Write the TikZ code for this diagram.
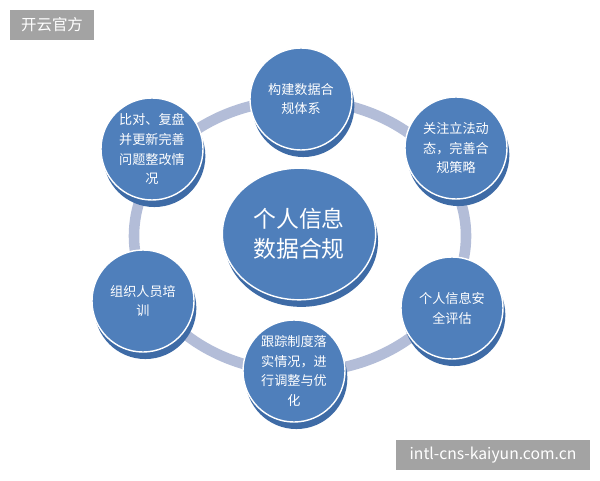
\documentclass[tikz,border=0pt]{standalone}
\usepackage{fontspec}
\setmainfont{Noto Sans CJK SC}
\usetikzlibrary{shadows,shapes.geometric}
\definecolor{bubblue}{HTML}{4F7FBB}
\definecolor{bubdark}{HTML}{3E6BA6}
\definecolor{ringblue}{HTML}{B3BDD8}
\definecolor{wmgray}{HTML}{A3A3A3}
\begin{document}
\begin{tikzpicture}[x=0.03cm,y=-0.03cm,line join=round,line cap=round,
	bub/.style={circle,fill=bubblue,draw=white,line width=1.2pt,inner sep=0pt,
		text=white,align=center,
		drop shadow={shadow xshift=2pt,shadow yshift=-6pt,fill=bubdark,opacity=1}},
	small/.style={bub,minimum size=3.06cm,font=\fontsize{11.2}{17}\selectfont},
	wmbox/.style={fill=wmgray,text=white,inner sep=0pt,minimum height=0.9cm}]
	\fill[white] (0,0) rectangle (600,480);
	\useasboundingbox (0,0) rectangle (600,480);
	% ring under the bubbles
	\coordinate (mid) at (300,236);
	\draw[white,line width=12.5pt] (mid) ellipse [x radius=4.98cm,y radius=4.08cm];
	\draw[ringblue,line width=9pt] (mid) ellipse [x radius=4.98cm,y radius=4.08cm];
	% centre
	\node[bub,ellipse,minimum width=4.6cm,minimum height=3.95cm,
		font=\fontsize{19.5}{26}\selectfont] (core) at (299,234) {个人信息\\数据合规};
	% outer bubbles
	\foreach \nm/\p/\txt in {
		build/{301,99}/{构建数据合\\规体系},
		law/{456,148}/{关注立法动\\态，完善合\\规策略},
		risk/{452,308}/{个人信息安\\全评估},
		track/{294,371}/{跟踪制度落\\实情况，进\\行调整与优\\化},
		train/{143,301}/{组织人员培\\训},
		review/{152,149}/{比对、复盘\\并更新完善\\问题整改情\\况}}
	\node[small] (\nm) at (\p) {\txt};
	% watermarks
	\node[wmbox,minimum width=2.52cm,font=\fontsize{13.2}{15}\selectfont] (wmtop) at (52,25) {开云官方};
	\node[wmbox,minimum width=5.82cm,font=\fontsize{13.4}{15}\selectfont] (wmurl) at (493,455) {intl-cns-kaiyun.com.cn};
\end{tikzpicture}
\end{document}
